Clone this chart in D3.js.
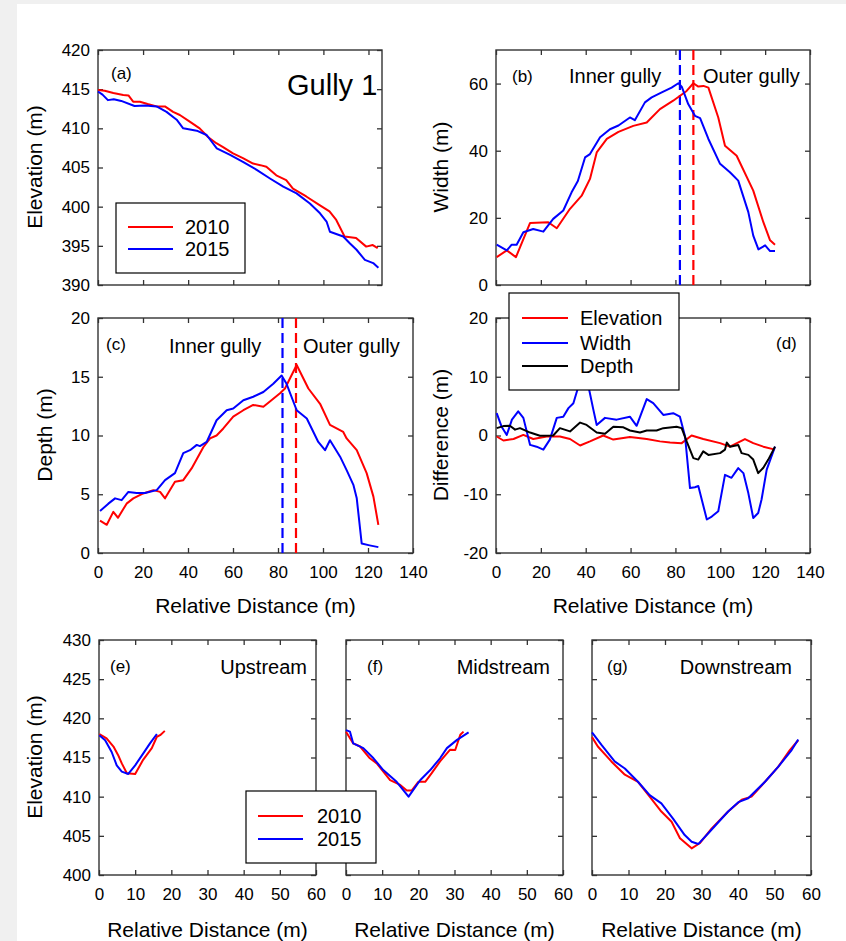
<!DOCTYPE html>
<html>
<head>
<meta charset="utf-8">
<script src="https://cdn.jsdelivr.net/npm/d3@7"></script>
<style>
    body { margin: 0; background: #f0f0f0; }
    svg text { font-family: "Liberation Sans", Arial, sans-serif; fill: #000; }
</style>
</head>
<body>
<div id="gully_chart"></div>
<script>
// ---- data: [relative distance (m), value] ----
const years = ["2010", "2015"];
const yearColors = ["#ff0000", "#0000ff"];

// (a) longitudinal elevation
const elev2010 = [[0,414.9],[3,414.8],[6.8,414.5],[11.2,414.25],[13.5,414.2],[15.6,413.4],[18.6,413.4],[22,413.1],[26,412.8],[29.7,412.8],[33.3,412.1],[36.3,411.7],[40.7,410.85],[45.1,410.0],[48.8,408.9],[52.5,408.1],[55.5,407.6],[59.9,406.8],[64.3,406.2],[68.8,405.5],[72,405.3],[74.7,405.1],[79.1,404.0],[83.5,403.4],[86.5,402.3],[92.4,401.3],[98.3,400.2],[102.7,399.4],[105.7,398.3],[109.4,396.2],[114.5,396.0],[119,394.9],[121.9,395.1],[124.1,394.7]];
const elev2015 = [[0,414.7],[2,414.3],[4.4,413.6],[7,413.7],[10.3,413.5],[16.2,412.85],[21,412.9],[26,412.8],[30.4,412.1],[34.9,411.1],[37.8,410.0],[43.8,409.7],[48.2,409.15],[52.7,407.45],[58.6,406.6],[64.5,405.7],[70.4,404.7],[76.3,403.6],[82.2,402.55],[88.1,401.7],[94.0,400.4],[98.5,399.15],[101.4,398.1],[102.9,396.8],[108.8,396.2],[111.8,395.3],[114.7,394.5],[118.4,393.2],[122.1,392.8],[124.4,392.2]];

// (b) gully width
const width2010 = [[0.3,8.3],[4.8,10.3],[8.9,8.3],[15.2,18.5],[23.3,18.7],[27.1,16.9],[33,22.7],[38.2,26.6],[41.9,31.6],[44.9,39.5],[49.4,43.5],[54.6,45.6],[61.2,47.4],[67.2,48.4],[73.1,52.4],[79,54.9],[85,57.8],[88,60.1],[90.2,59.1],[92.5,59.3],[94.7,58.8],[99.1,49.9],[102.1,41.5],[107.3,38.5],[114.7,28.1],[119.2,18.7],[122.2,13.3],[124.4,12]];
const width2015 = [[0.3,12],[4.8,10.3],[7,12],[9.2,12],[12.2,15.7],[16.6,16.7],[21.1,15.9],[25.5,19.7],[30,22.2],[33.7,27.6],[36.5,31],[39.7,38],[41.9,39.0],[46.4,44],[50.8,46.4],[54.6,47.5],[59.7,49.9],[61.9,49.1],[66.4,54.4],[69.4,55.9],[73.9,57.4],[78.3,58.8],[81.3,60.1],[82.8,59.1],[85.7,53.9],[88.7,50.4],[91,49.7],[94.7,43.5],[99.9,36.1],[104.3,33.6],[108,31.1],[112.5,21.7],[114.7,14.7],[117,10.6],[120,11.8],[122.2,10.1],[124.4,10.1]];

// (c) gully depth
const depth2010 = [[0.9,2.75],[3.9,2.4],[6.8,3.5],[8.9,3.0],[12.7,4.2],[15.7,4.65],[20.1,5.07],[24.6,5.35],[27.6,5.2],[29.8,4.65],[34.2,6.06],[37.9,6.2],[41.6,7.2],[46.8,9.0],[49.8,9.75],[52.7,10.0],[55.7,10.6],[60.1,11.6],[64.6,12.15],[69,12.6],[73.5,12.45],[76.4,12.9],[80.9,13.6],[83.1,14.0],[85.3,14.85],[88.3,16.0],[93.5,14.0],[98.7,12.7],[103.1,10.9],[109,10.3],[110.5,9.75],[115,8.75],[119.4,6.8],[122.4,4.8],[124.6,2.4]];
const depth2015 = [[0.9,3.57],[4.6,4.2],[7.6,4.65],[10.5,4.5],[13.5,5.2],[17.2,5.1],[20.9,5.1],[26.1,5.35],[29.8,6.2],[34.2,6.8],[37.9,8.5],[40.9,8.75],[43.9,9.2],[45.3,9.1],[48.3,9.45],[52.7,11.3],[57.2,12.15],[60.1,12.3],[64.6,13.0],[69,13.3],[73.5,13.7],[77.9,14.4],[81.6,15.1],[83.8,14.4],[88.3,12.15],[92.8,11.45],[97.9,9.45],[100.9,8.75],[103.1,9.6],[107.6,8.2],[110.5,7.05],[113.5,5.8],[115,4.65],[117.2,0.8],[120.7,0.65],[124.6,0.5]];

// inner / outer gully boundary (m), 2010 then 2015
const boundary = [88, 82];

// (d) difference 2015 - 2010
const diffNames = ["Elevation", "Width", "Depth"];
const diffColors = ["#ff0000", "#0000ff", "#000000"];
const diffElev = [[0.3,-0.17],[3.3,-0.85],[7.8,-0.6],[12.2,0.1],[16.6,-0.6],[22.6,-0.17],[28.5,-0.17],[33,-0.6],[37.5,-1.7],[41.9,-1.0],[47.8,0],[52.3,-0.7],[59.7,-0.25],[67.2,-0.6],[73.1,-1.0],[77.6,-1.2],[82.8,-1.3],[87.2,0],[92.4,-0.6],[99.9,-1.3],[104.3,-1.9],[111,-0.6],[114.7,-1.3],[119.2,-1.9],[124.4,-2.4]];
const diffWidth = [[0.3,3.8],[2.5,1.5],[4.8,0.1],[7.1,2.7],[9.9,4.1],[12.2,3.0],[15.2,-1.6],[18.1,-1.9],[21.1,-2.4],[24,-0.7],[27.1,3.0],[30,3.2],[32.3,4.66],[34.5,5.5],[36.7,8.3],[38.8,11],[41.1,8.6],[43.4,4.4],[44.9,1.8],[48.6,3.0],[53.8,2.7],[59.7,3.2],[62.7,1.65],[67.2,6.2],[70.1,5.5],[74.6,3.5],[79,3.8],[82,3.2],[84.3,-0.17],[86.5,-8.95],[88.7,-8.8],[90.2,-8.6],[94,-14.3],[96.2,-13.8],[99.1,-12.9],[102.1,-6.7],[105,-7.2],[108,-5.55],[110.3,-6.4],[112.5,-9.8],[114.7,-14.05],[116.9,-13.2],[118.4,-10.9],[120.7,-5.8],[124.4,-1.9]];
const diffDepth = [[0.3,1.25],[3.3,1.6],[6.2,1.65],[8.5,1.0],[10.7,1.25],[15.2,0.5],[19.6,-0.05],[25.5,0],[28.5,1.25],[33,0.7],[37.5,2.2],[40.4,1.8],[44.9,0.5],[48.6,0.3],[52.3,1.5],[56.8,1.4],[59.7,0.85],[64.2,0.5],[67.2,0.85],[71.6,0.85],[74.6,1.25],[80.5,1.5],[82.8,1.25],[85,-1.0],[88,-3.85],[90.2,-4.1],[92.4,-2.7],[94.7,-3.3],[99.9,-3.0],[102.1,-2.4],[102.9,-1.2],[104.3,-1.9],[108,-1.6],[109.5,-3.0],[112.5,-3.3],[114.7,-4.1],[116.9,-6.4],[119.2,-5.5],[121.4,-4.1],[124.4,-1.9]];

// (e)-(g) cross sections
const sectionNames = ["Upstream", "Midstream", "Downstream"];
const up2010 = [[0.1,418.0],[2.1,417.45],[4,416.4],[5.3,415.3],[6.3,414.25],[7.7,413.0],[10,412.9],[12.2,414.7],[14.6,416.2],[16,417.65],[16.9,417.85],[18.2,418.4]];
const up2015 = [[0.1,417.85],[1.7,417.2],[3.5,415.7],[4.9,414.0],[6.3,413.2],[8.1,412.9],[10,414.0],[12.2,415.5],[14.1,416.8],[16,418.0]];
const mid2010 = [[0,418.3],[2,416.8],[3.9,416.4],[6.6,414.9],[8.5,414.25],[12.2,412.1],[15,411.5],[16.8,410.8],[18.2,410.8],[20,411.9],[21.9,411.9],[23.7,413.0],[26,414.5],[28.8,416.0],[30.2,415.95],[31.6,417.9],[32.5,418.3]];
const mid2015 = [[0,418.5],[1.1,418.3],[2,416.8],[4.8,416.2],[7.6,414.9],[10.3,413.4],[14,411.9],[17.3,410.0],[20.5,412.1],[23.3,413.4],[26,414.9],[27.9,416.2],[30.7,417.25],[33.9,418.2]];
const down2010 = [[0,417.6],[1.6,416.4],[5.3,414.5],[9,412.8],[12.6,411.9],[15.8,410.0],[19,408.1],[21.8,406.8],[24.1,404.7],[27.3,403.4],[29.5,404.05],[32.8,405.95],[37.3,408.1],[41,409.6],[43.7,410.0],[47.4,411.9],[51,413.8],[54.2,415.95],[56.5,417.2]];
const down2015 = [[0,418.2],[2.6,416.6],[6.2,414.5],[9,413.6],[12.6,411.9],[15.8,410.2],[19,409.15],[22.2,407.2],[25.4,405.1],[27.3,404.25],[29.1,403.95],[31.8,405.3],[37.3,408.1],[40.1,409.3],[42.8,409.8],[47.4,411.9],[51,413.8],[54.7,415.95],[56.5,417.3]];

// tick values
const distTicks = [0, 20, 40, 60, 80, 100, 120, 140];
const sectionTicks = [0, 10, 20, 30, 40, 50, 60];
const elevTicks = [390, 395, 400, 405, 410, 415, 420];
const widthTicks = [0, 20, 40, 60];
const depthTicks = [0, 5, 10, 15, 20];
const diffTicks = [-20, -10, 0, 10, 20];
const sectionElevTicks = [400, 405, 410, 415, 420, 425, 430];

function main() {

    const canvasWidth = 846;
    const canvasHeight = 941;
    const font = '"Liberation Sans", Arial, sans-serif';

    const svg = d3.select("#gully_chart").append("svg")
        .attr("width", canvasWidth)
        .attr("height", canvasHeight)

    svg.append("rect")
        .attr("width", canvasWidth).attr("height", canvasHeight)
        .attr("fill", "#f0f0f0")
    svg.append("rect")
        .attr("x", 17).attr("y", 4)
        .attr("width", canvasWidth - 17).attr("height", canvasHeight - 4)
        .attr("fill", "#fff")

    // one framed panel with inward ticks on all four sides
    function panel(box, xDomain, yDomain, xTicks, yTicks, xLabels, yLabels) {
        const g = svg.append("g")
        const x = d3.scaleLinear().domain(xDomain).range([box.left, box.right])
        const y = d3.scaleLinear().domain(yDomain).range([box.bottom, box.top])

        const axes = [
            [d3.axisBottom(x).tickValues(xTicks).tickPadding(13).tickFormat(xLabels ? d => String(d) : ""), `translate(0,${box.bottom})`],
            [d3.axisTop(x).tickValues(xTicks).tickFormat(""), `translate(0,${box.top})`],
            [d3.axisLeft(y).tickValues(yTicks).tickPadding(8).tickFormat(yLabels ? d => String(d) : ""), `translate(${box.left},0)`],
            [d3.axisRight(y).tickValues(yTicks).tickFormat(""), `translate(${box.right},0)`]
        ]
        axes.forEach(([axis, t]) => {
            const a = g.append("g")
                .attr("transform", t)
                .call(axis.tickSize(-5))
                .attr("font-size", 17)
                .attr("font-family", font)
            a.select(".domain").remove()
            a.selectAll(".tick line").attr("stroke", "#333").attr("stroke-width", 1.3)
            a.selectAll(".tick text").attr("fill", "#000")
        })

        g.append("rect")
            .attr("x", box.left).attr("y", box.top)
            .attr("width", box.right - box.left).attr("height", box.bottom - box.top)
            .attr("fill", "none")
            .attr("stroke", "#333")
            .attr("stroke-width", 1.4)

        return { g: g, x: x, y: y }
    }

    function drawLine(p, data, color) {
        p.g.append("path")
            .datum(data)
            .attr("fill", "none")
            .attr("stroke", color)
            .attr("stroke-width", 2)
            .attr("stroke-linejoin", "round")
            .attr("d", d3.line().x(d => p.x(d[0])).y(d => p.y(d[1])))
    }

    function label(x, y, txt, size, anchor) {
        svg.append("text")
            .attr("x", x).attr("y", y)
            .attr("font-size", size)
            .attr("text-anchor", anchor || "start")
            .text(txt)
    }

    function yTitle(x, yMid, txt) {
        svg.append("text")
            .attr("transform", `translate(${x},${yMid}) rotate(-90)`)
            .attr("font-size", 21)
            .attr("text-anchor", "middle")
            .text(txt)
    }

    function legend(box, names, colors, lineX, textX, rowY) {
        svg.append("rect")
            .attr("x", box.left).attr("y", box.top)
            .attr("width", box.right - box.left).attr("height", box.bottom - box.top)
            .attr("fill", "#fff")
            .attr("stroke", "#000")
            .attr("stroke-width", 1.2)
        names.forEach((n, i) => {
            svg.append("line")
                .attr("x1", lineX[0]).attr("x2", lineX[1])
                .attr("y1", rowY[i]).attr("y2", rowY[i])
                .attr("stroke", colors[i])
                .attr("stroke-width", 2)
            svg.append("text")
                .attr("x", textX).attr("y", rowY[i] + 7)
                .attr("font-size", 20)
                .text(n)
        })
    }

    function boundaryLines(p) {
        boundary.forEach((b, i) => {
            p.g.append("line")
                .attr("x1", p.x(b)).attr("x2", p.x(b))
                .attr("y1", p.y.range()[0]).attr("y2", p.y.range()[1])
                .attr("stroke", yearColors[i])
                .attr("stroke-width", 2.2)
                .attr("stroke-dasharray", "10,5")
        })
    }

    // (a) elevation
    const pa = panel({ left: 98, top: 50, right: 382, bottom: 285 }, [0, 126], [390, 420], distTicks.slice(0, 7), elevTicks, false, true)
    drawLine(pa, elev2010, yearColors[0])
    drawLine(pa, elev2015, yearColors[1])
    label(111, 79, "(a)", 17)
    label(287, 95, "Gully 1", 29)
    yTitle(42, 167, "Elevation (m)")
    legend({ left: 116, top: 203, right: 245, bottom: 273 }, years, yearColors, [128, 173], 185, [227, 249])

    // (b) width
    const pb = panel({ left: 496, top: 50, right: 810, bottom: 285 }, [0, 140], [0, 70], distTicks, widthTicks, false, true)
    boundaryLines(pb)
    drawLine(pb, width2010, yearColors[0])
    drawLine(pb, width2015, yearColors[1])
    label(512, 82, "(b)", 17)
    label(569, 83, "Inner gully", 20)
    label(703, 83, "Outer gully", 20)
    yTitle(448, 167, "Width (m)")

    // (c) depth
    const pc = panel({ left: 98, top: 318, right: 413, bottom: 553 }, [0, 140], [0, 20], distTicks, depthTicks, true, true)
    boundaryLines(pc)
    drawLine(pc, depth2010, yearColors[0])
    drawLine(pc, depth2015, yearColors[1])
    label(106, 350, "(c)", 17)
    label(169, 353, "Inner gully", 20)
    label(303, 353, "Outer gully", 20)
    yTitle(52, 435, "Depth (m)")
    label(255.5, 613, "Relative Distance (m)", 21, "middle")

    // (d) differences
    const pd = panel({ left: 496, top: 318, right: 810, bottom: 553 }, [0, 140], [-20, 20], distTicks, diffTicks, true, true)
    drawLine(pd, diffElev, diffColors[0])
    drawLine(pd, diffWidth, diffColors[1])
    drawLine(pd, diffDepth, diffColors[2])
    label(776, 349, "(d)", 17)
    yTitle(448, 435, "Difference (m)")
    label(653, 613, "Relative Distance (m)", 21, "middle")
    legend({ left: 509, top: 293, right: 679, bottom: 390 }, diffNames, diffColors, [522, 568], 580, [318, 343, 366])

    // (e)-(g) cross sections, only (e) carries y labels
    const sectionBoxes = [
        { left: 99, top: 640, right: 316, bottom: 875 },
        { left: 346, top: 640, right: 563, bottom: 875 },
        { left: 592, top: 640, right: 811, bottom: 875 }
    ]
    const sectionData = [[up2010, up2015], [mid2010, mid2015], [down2010, down2015]]
    const sectionTags = ["(e)", "(f)", "(g)"]
    sectionBoxes.forEach((box, i) => {
        const p = panel(box, [0, 60], [400, 430], sectionTicks, sectionElevTicks, true, i == 0)
        drawLine(p, sectionData[i][0], yearColors[0])
        drawLine(p, sectionData[i][1], yearColors[1])
        label(box.left + 11 + (i == 1 ? 10 : 0) + (i == 2 ? 4 : 0), 672, sectionTags[i], 17)
        label(box.right - 9 - (i == 1 ? 4 : 0) - (i == 2 ? 10 : 0), 674, sectionNames[i], 20, "end")
        label((box.left + box.right) / 2, 937, "Relative Distance (m)", 21, "middle")
    })
    yTitle(42, 757, "Elevation (m)")
    legend({ left: 246, top: 791, right: 376, bottom: 863 }, years, yearColors, [258, 303], 317, [816, 839])
}
main();
</script>
</body>
</html>
